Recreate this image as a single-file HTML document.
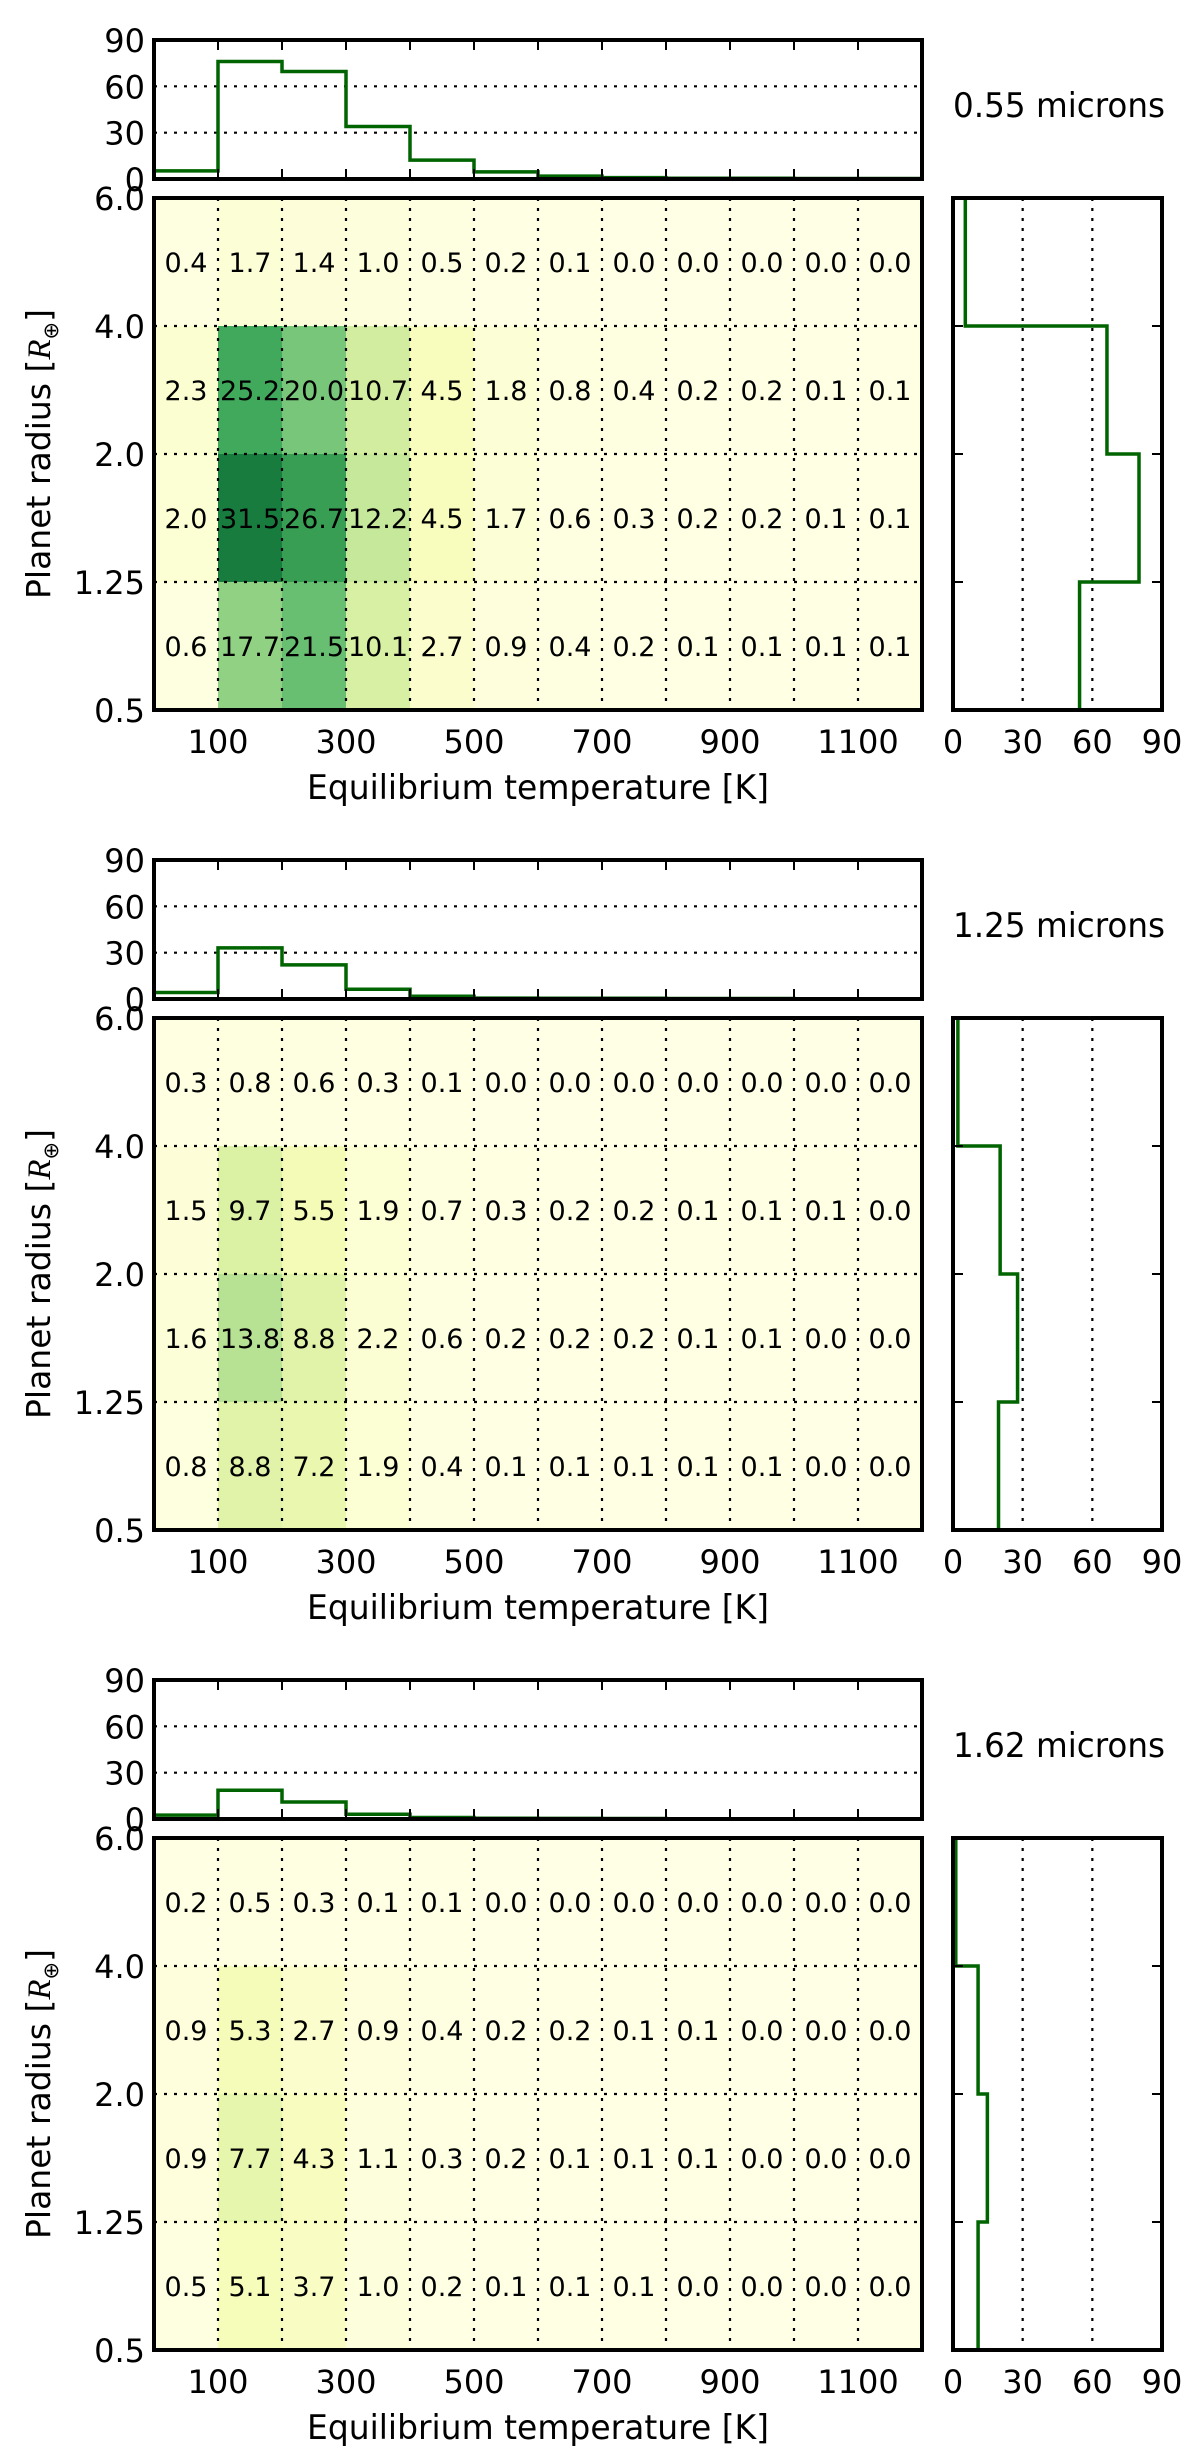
<!DOCTYPE html>
<html><head><meta charset="utf-8">
<style>
html,body{margin:0;padding:0;background:#fff;}
svg{display:block;font-family:"DejaVu Sans","Liberation Sans",sans-serif;}
</style></head>
<body>
<svg id="fig" width="1200" height="2461" viewBox="0 0 1200 2461" xmlns="http://www.w3.org/2000/svg"></svg>
<script>
// ---- data ----
const tempEdges = [0,100,200,300,400,500,600,700,800,900,1000,1100,1200];
const xTickLabels = [100,300,500,700,900,1100];
const radiusLabels = ["6.0","4.0","2.0","1.25","0.5"];
const histTicks = [0,30,60,90];
const panelTitles = ["0.55 microns","1.25 microns","1.62 microns"];
// rows from top (4.0-6.0) to bottom (0.5-1.25)
const grid055 = [
 [0.4,1.7,1.4,1.0,0.5,0.2,0.1,0.0,0.0,0.0,0.0,0.0],
 [2.3,25.2,20.0,10.7,4.5,1.8,0.8,0.4,0.2,0.2,0.1,0.1],
 [2.0,31.5,26.7,12.2,4.5,1.7,0.6,0.3,0.2,0.2,0.1,0.1],
 [0.6,17.7,21.5,10.1,2.7,0.9,0.4,0.2,0.1,0.1,0.1,0.1]
];
const grid125 = [
 [0.3,0.8,0.6,0.3,0.1,0.0,0.0,0.0,0.0,0.0,0.0,0.0],
 [1.5,9.7,5.5,1.9,0.7,0.3,0.2,0.2,0.1,0.1,0.1,0.0],
 [1.6,13.8,8.8,2.2,0.6,0.2,0.2,0.2,0.1,0.1,0.0,0.0],
 [0.8,8.8,7.2,1.9,0.4,0.1,0.1,0.1,0.1,0.1,0.0,0.0]
];
const grid162 = [
 [0.2,0.5,0.3,0.1,0.1,0.0,0.0,0.0,0.0,0.0,0.0,0.0],
 [0.9,5.3,2.7,0.9,0.4,0.2,0.2,0.1,0.1,0.0,0.0,0.0],
 [0.9,7.7,4.3,1.1,0.3,0.2,0.1,0.1,0.1,0.0,0.0,0.0],
 [0.5,5.1,3.7,1.0,0.2,0.1,0.1,0.1,0.0,0.0,0.0,0.0]
];
const grids = [grid055, grid125, grid162];

// ---- layout ----
const NS = "http://www.w3.org/2000/svg";
const svg = document.getElementById('fig');
const L = 154, R = 922, RX0 = 953, RX1 = 1162;
const VMAX = 40, HMAX = 90;
const TICK = 32;
const ylgn = ["#ffffe5","#f7fcb9","#d9f0a3","#addd8e","#78c679","#41ab5d","#238443","#006837","#004529"];
function cmap(v){
  let t = Math.max(0, Math.min(1, v / VMAX)) * (ylgn.length - 1);
  let i = Math.min(Math.floor(t), ylgn.length - 2), f = t - i;
  const a = ylgn[i], b = ylgn[i+1];
  const c = k => Math.round(parseInt(a.substr(k,2),16)*(1-f) + parseInt(b.substr(k,2),16)*f);
  return `rgb(${c(1)},${c(3)},${c(5)})`;
}
function mk(tag, attrs, parent){
  const e = document.createElementNS(NS, tag);
  for (const k in attrs) e.setAttribute(k, attrs[k]);
  parent.appendChild(e);
  return e;
}
function txt(parent, x, y, s, size, anchor, name){
  const t = mk('text', {x:x, y:y, 'font-size':size, 'text-anchor':anchor, fill:'#000'}, parent);
  
  
  t.textContent = s;
  return t;
}
const DASH = {stroke:'#000','stroke-width':2.2,'stroke-dasharray':'3,7',fill:'none'};

grids.forEach((grid, p) => {
  const off = p * 820;
  const g = mk('g', {}, svg);
  
  

  const HT = 40 + off, HB = 179 + off;    // top hist
  const MT = 198 + off, MB = 710 + off;   // heatmap
  const nRows = grid.length, nCols = tempEdges.length - 1;
  const xs = v => L + (v - tempEdges[0]) / (tempEdges[nCols] - tempEdges[0]) * (R - L);
  const rowY = i => MT + i * (MB - MT) / nRows;
  const hy = v => HB - v / HMAX * (HB - HT);
  const hx = v => RX0 + v / HMAX * (RX1 - RX0);

  const colSums = [], rowSums = [];
  for (let j = 0; j < nCols; j++){ let s = 0; for (let i = 0; i < nRows; i++) s += grid[i][j]; colSums.push(s); }
  for (let i = 0; i < nRows; i++) rowSums.push(grid[i].reduce((a,b)=>a+b,0));

  // ---- top histogram ----
  const th = mk('g', {}, g);
  
  
  [30,60].forEach(v => {
    const l = mk('line', Object.assign({x1:L, x2:R, y1:hy(v), y2:hy(v)}, DASH), th);
    
    
  });
  let d = `M${xs(tempEdges[0])},${hy(0)}`;
  colSums.forEach((s, j) => { d += ` L${xs(tempEdges[j])},${hy(s)} L${xs(tempEdges[j+1])},${hy(s)}`; });
  d += ` L${xs(tempEdges[nCols])},${hy(0)}`;
  const tl = mk('path', {d:d, fill:'none', stroke:'#006400', 'stroke-width':3.5}, th);
  
  
  for (let k = 1; k < nCols; k++){
    const x = xs(tempEdges[k]);
    mk('line', {x1:x, x2:x, y1:HT, y2:HT+10, stroke:'#000','stroke-width':2}, th);
    mk('line', {x1:x, x2:x, y1:HB, y2:HB-10, stroke:'#000','stroke-width':2}, th);
  }
  histTicks.forEach(v => txt(th, 145, hy(v) + 12, String(v), TICK, 'end', 'top-hist-y-tick-label'));
  const tb = mk('rect', {x:L, y:HT, width:R-L, height:HB-HT, fill:'none', stroke:'#000','stroke-width':4}, th);
  
  

  // ---- heatmap ----
  const hm = mk('g', {}, g);
  
  
  for (let i = 0; i < nRows; i++){
    for (let j = 0; j < nCols; j++){
      const x0 = xs(tempEdges[j]), x1 = xs(tempEdges[j+1]);
      const c = mk('rect', {x:x0, y:rowY(i), width:x1-x0, height:rowY(i+1)-rowY(i), fill:cmap(grid[i][j])}, hm);
      
      
    }
  }
  for (let k = 1; k < nCols; k++){
    const x = xs(tempEdges[k]);
    const l = mk('line', Object.assign({x1:x, x2:x, y1:MT, y2:MB}, DASH), hm);
    
    
  }
  for (let i = 1; i < nRows; i++){
    const l = mk('line', Object.assign({x1:L, x2:R, y1:rowY(i), y2:rowY(i)}, DASH), hm);
    
    
  }
  for (let i = 0; i < nRows; i++){
    for (let j = 0; j < nCols; j++){
      const cx = (xs(tempEdges[j]) + xs(tempEdges[j+1])) / 2;
      const cy = (rowY(i) + rowY(i+1)) / 2;
      txt(hm, cx, cy + 10, grid[i][j].toFixed(1), 27, 'middle', 'cell-value');
    }
  }
  radiusLabels.forEach((s, i) => txt(hm, 145, rowY(i) + 12, s, TICK, 'end', 'y-tick-label'));
  xTickLabels.forEach(v => txt(hm, xs(v), MB + 43, String(v), TICK, 'middle', 'x-tick-label'));
  const mb = mk('rect', {x:L, y:MT, width:R-L, height:MB-MT, fill:'none', stroke:'#000','stroke-width':4}, hm);
  
  
  const xl = txt(hm, (L+R)/2, MB + 89, 'Equilibrium temperature [K]', 34, 'middle', 'x-axis-title');
  xl.setAttribute('textLength', 462);
  xl.setAttribute('lengthAdjust', 'spacingAndGlyphs');
  const yl = mk('text', {x:0, y:0, 'font-size':33, 'text-anchor':'middle', fill:'#000', transform:`translate(50,${(MT+MB)/2}) rotate(-90)`}, hm);
  
  
  yl.innerHTML = 'Planet radius [<tspan font-family="Liberation Serif, serif" font-style="italic">R</tspan><tspan font-size="21" dy="8">⊕</tspan><tspan dy="-8">]</tspan>';

  // ---- right histogram ----
  const rh = mk('g', {}, g);
  
  
  [30,60].forEach(v => {
    const l = mk('line', Object.assign({x1:hx(v), x2:hx(v), y1:MT, y2:MB}, DASH), rh);
    
    
  });
  let rd = `M${hx(0)},${rowY(0)}`;
  rowSums.forEach((s, i) => { rd += ` L${hx(s)},${rowY(i)} L${hx(s)},${rowY(i+1)}`; });
  rd += ` L${hx(0)},${rowY(nRows)}`;
  const rl = mk('path', {d:rd, fill:'none', stroke:'#006400', 'stroke-width':3.5}, rh);
  
  
  for (let i = 1; i < nRows; i++){
    mk('line', {x1:RX0, x2:RX0+10, y1:rowY(i), y2:rowY(i), stroke:'#000','stroke-width':2}, rh);
    mk('line', {x1:RX1, x2:RX1-10, y1:rowY(i), y2:rowY(i), stroke:'#000','stroke-width':2}, rh);
  }
  histTicks.forEach(v => txt(rh, hx(v), MB + 43, String(v), TICK, 'middle', 'right-hist-x-tick-label'));
  const rb = mk('rect', {x:RX0, y:MT, width:RX1-RX0, height:MB-MT, fill:'none', stroke:'#000','stroke-width':4}, rh);
  
  

  const tt = txt(g, 953, HT + 77, panelTitles[p], 34, 'start', 'wavelength-label');
  tt.setAttribute('textLength', 212);
  tt.setAttribute('lengthAdjust', 'spacingAndGlyphs');
});
</script>
</body></html>
